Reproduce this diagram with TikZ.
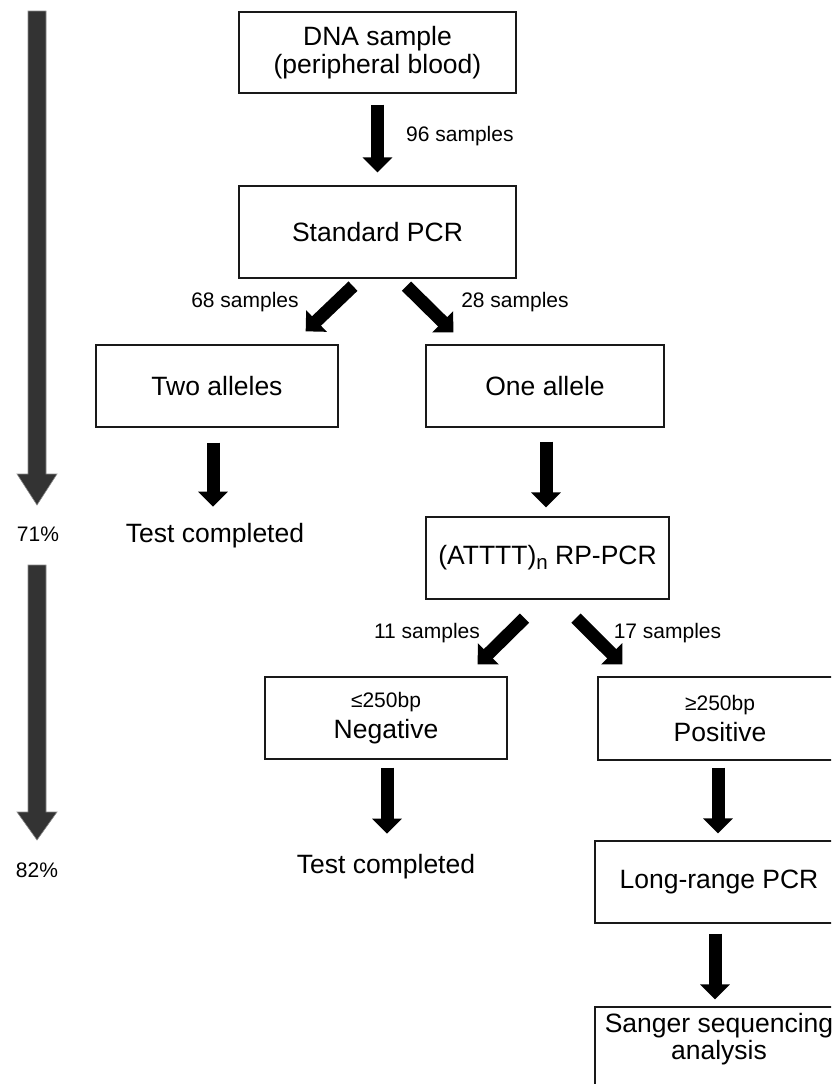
\documentclass[tikz,border=0pt]{standalone}
\usepackage{fontspec}
\setmainfont{Liberation Sans}
\usetikzlibrary{arrows.meta,calc}
\definecolor{darkarrow}{HTML}{333333}
\definecolor{arrowedge}{HTML}{8A8A8A}
\begin{document}
\begin{tikzpicture}[x=1pt,y=-1pt,
  box/.style={draw=black!90, line width=1.3pt, inner sep=0pt, align=center,
    font=\fontsize{26.5}{28.5}\selectfont},
  blockarrow/.style={line width=13pt, -{Triangle[width=29pt,length=15pt]}},
  lbl/.style={font=\fontsize{21}{24}\selectfont, anchor=base, inner sep=0pt},
  big/.style={font=\fontsize{26.5}{28.5}\selectfont, anchor=base, inner sep=0pt},
  grayarrow/.style={fill=darkarrow, draw=arrowedge, line width=0.6pt, line join=miter}
]
\useasboundingbox (0,0) rectangle (831,1084);
\clip (0,0) rectangle (831,1084);

% boxes
\node[box, minimum width=277pt, minimum height=81pt] (dna) at (377.5,52.5) {DNA sample\\(peripheral blood)};
\node[box, minimum width=277pt, minimum height=92pt] (std) at (377.5,232) {Standard PCR};
\node[box, minimum width=242pt, minimum height=82pt] (two) at (217,386) {Two alleles};
\node[box, minimum width=238pt, minimum height=82pt] (one) at (545,386) {One allele};
\node[big] (tc1) at (215,542) {Test completed};
\node[box, minimum width=243pt, minimum height=82pt] (rp) at (547.5,558)
  {(ATTTT)\raisebox{-5pt}{\fontsize{20.5}{20.5}\selectfont n} RP-PCR};
\node[box, font=\fontsize{26.5}{31}\selectfont, minimum width=242pt, minimum height=82pt] (neg) at (386,718)
  {{\fontsize{21}{31}\selectfont ≤250bp}\\Negative};
\node[box, font=\fontsize{26.5}{31}\selectfont, minimum width=244pt, minimum height=83pt] (pos) at (720,718.5)
  {{\fontsize{21}{31}\selectfont ≥250bp}\\Positive};
\node[big] (tc2) at (386,873) {Test completed};
\node[box, minimum width=248pt, minimum height=82pt] (lr) at (719,882) {Long-range PCR};
\node[box, font=\fontsize{26.5}{26}\selectfont, minimum width=248pt, minimum height=82pt,
  text height=18pt, text depth=50pt] (sanger) at (719,1048)
  {\begin{tabular}[t]{@{}c@{}}Sanger sequencing\\analysis\end{tabular}};

% labels
\node[lbl, anchor=base west] (l96) at (406,141.5) {96 samples};
\node[lbl] (l68) at (245,307) {68 samples};
\node[lbl] (l28) at (515,307) {28 samples};
\node[lbl] (l11) at (427,638) {11 samples};
\node[lbl] (l17) at (667.5,638) {17 samples};
\node[lbl] (p71) at (38,541) {71\%};
\node[lbl] (p82) at (37,877) {82\%};

% black block arrows
\draw[blockarrow] ($(dna.south)+(0,11)$) -- ($(std.north)+(0,-13)$);
\draw[blockarrow] ($(std.south)+(-24.5,7.5)$) -- ($(two.north east)+(-33,-13)$);
\draw[blockarrow] ($(std.south)+(29,7.5)$) -- ($(one.north west)+(28,-12)$);
\draw[blockarrow] ($(two.south)+(-4,15)$) -- ($(tc1.north)+(-2,-16)$);
\draw[blockarrow] ($(one.south)+(1,14)$) -- ($(rp.north)+(-1.5,-9)$);
\draw[blockarrow] ($(rp.south)+(-23,18.5)$) -- ($(neg.north east)+(-30,-12)$);
\draw[blockarrow] ($(rp.south)+(28.5,18.5)$) -- ($(pos.north west)+(25,-12)$);
\draw[blockarrow] ($(neg.south)+(1,8)$) -- ($(tc2.north)+(1,-20)$);
\draw[blockarrow] ($(pos.south)+(-2,7)$) -- ($(lr.north)+(-1,-7)$);
\draw[blockarrow] ($(lr.south)+(-4,10)$) -- ($(sanger.north)+(-4,-7)$);

% gray progress arrows
\draw[grayarrow] (28,11) -- (46,11) -- (46,474) -- (57,474) -- (37,505) -- (17,474) -- (28,474) -- cycle;
\draw[grayarrow] (28,565) -- (46,565) -- (46,812) -- (57,812) -- (37,840) -- (17,812) -- (28,812) -- cycle;
\end{tikzpicture}
\end{document}
